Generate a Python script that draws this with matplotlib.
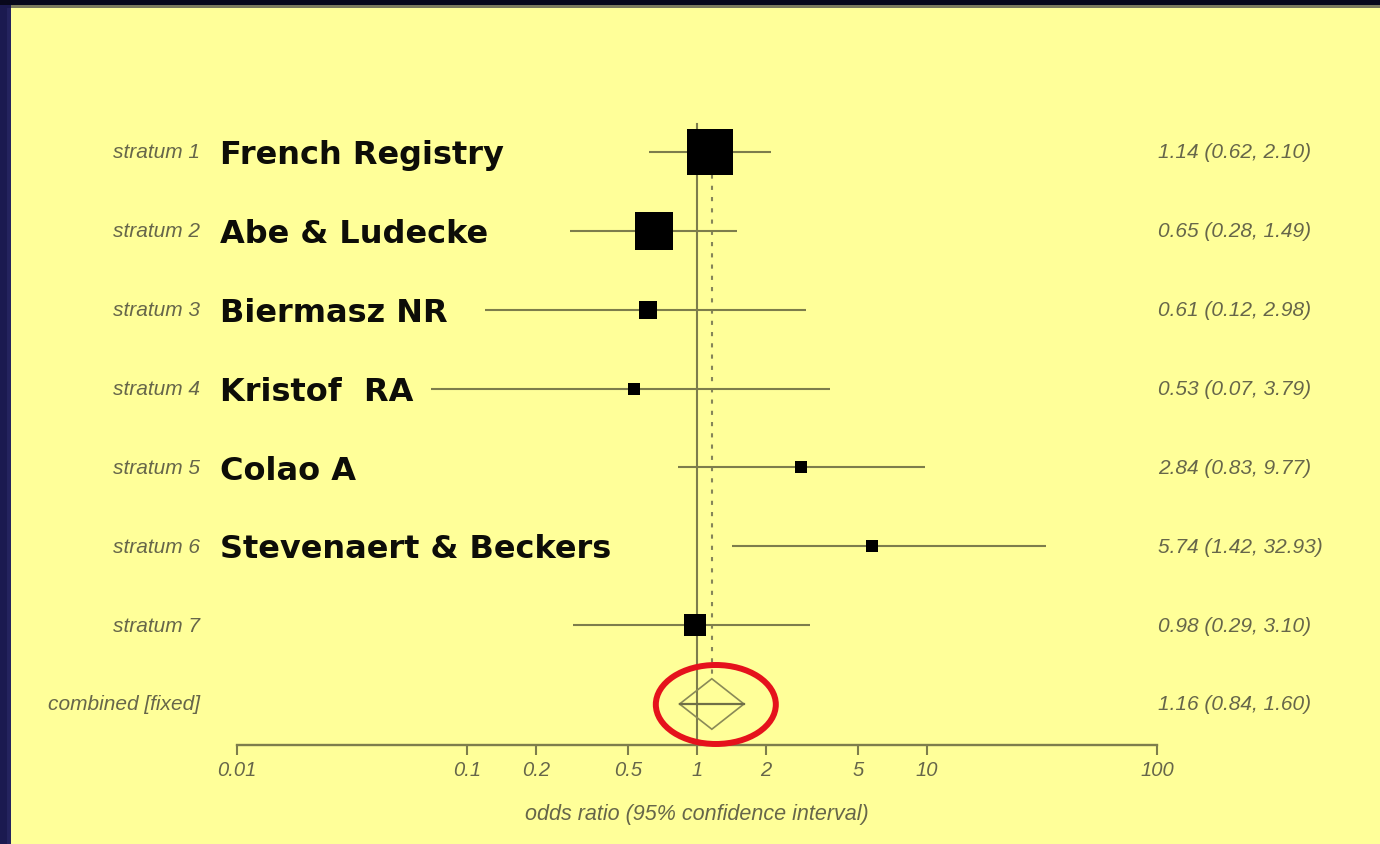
import numpy as np
import matplotlib
matplotlib.use("Agg")
import matplotlib.pyplot as plt
from matplotlib.patches import Rectangle, Polygon, Ellipse
from matplotlib import transforms
from matplotlib.ticker import NullLocator

# ---- data -------------------------------------------------------------
strata = ["stratum 1", "stratum 2", "stratum 3", "stratum 4",
          "stratum 5", "stratum 6", "stratum 7"]
studies = ["French Registry", "Abe & Ludecke", "Biermasz NR", "Kristof  RA",
           "Colao A", "Stevenaert & Beckers", ""]
odds_ratio = [1.14, 0.65, 0.61, 0.53, 2.84, 5.74, 0.98]
ci_low = [0.62, 0.28, 0.12, 0.07, 0.83, 1.42, 0.29]
ci_high = [2.10, 1.49, 2.98, 3.79, 9.77, 32.93, 3.10]
weights = [45.1, 29.2, 6.2, 3.1, 3.6, 2.6, 10.2]   # % weight per stratum

pooled_label = "combined [fixed]"
pooled_or = 1.16
pooled_low = 0.84
pooled_high = 1.60

tick_values = [0.01, 0.1, 0.2, 0.5, 1, 2, 5, 10, 100]
tick_labels = ["0.01", "0.1", "0.2", "0.5", "1", "2", "5", "10", "100"]
x_label = "odds ratio (95% confidence interval)"

# ---- styling ----------------------------------------------------------
W, H = 1380, 845
PANEL = "#ffff99"
LINE = "#7d7d4c"
TEXT_SOFT = "#66664a"
SMALL_FONT = ["Liberation Sans", "DejaVu Sans"]

fig = plt.figure(figsize=(W / 100, H / 100), dpi=100)
fig.patch.set_facecolor("#1b1a50")

# slide frame and yellow panel
fig.add_artist(Rectangle((0, 1 - 6 / H), 1, 6 / H, transform=fig.transFigure,
                         facecolor="#08081c", lw=0, zorder=0))
fig.add_artist(Rectangle((7 / W, 0), 4 / W, 1 - 9 / H, transform=fig.transFigure,
                         facecolor="#24235e", lw=0, zorder=0))
fig.add_artist(Rectangle((11 / W, 0), 1 - 11 / W, 1 - 9 / H, transform=fig.transFigure,
                         facecolor=PANEL, lw=0, zorder=0))
fig.add_artist(Rectangle((11 / W, 1 - 9 / H), 1 - 11 / W, 3 / H, transform=fig.transFigure,
                         facecolor="#7b7a5e", lw=0, zorder=0))

# plotting region: log axis from 0.01 to 100
ax = fig.add_axes([237 / W, 99 / H, 920 / W, 636 / H])
ax.set_facecolor("none")
ax.set_xscale("log")
ax.set_xlim(0.01, 100)
y_bottom, y_top = 7.52, -0.545
ax.set_ylim(y_bottom, y_top)

for side in ("top", "left", "right"):
    ax.spines[side].set_visible(False)
ax.spines["bottom"].set_color(LINE)
ax.spines["bottom"].set_linewidth(1.7)
ax.set_yticks([])
ax.set_xticks(tick_values)
ax.set_xticklabels(tick_labels)
ax.xaxis.set_minor_locator(NullLocator())
ax.tick_params(axis="x", direction="out", length=7, width=1.5, color=LINE,
               pad=4, labelsize=14.5, labelcolor=TEXT_SOFT)
for lbl in ax.get_xticklabels():
    lbl.set_fontstyle("italic")
    lbl.set_family(SMALL_FONT)
ax.set_xlabel(x_label, fontsize=15.5, fontstyle="italic", family=SMALL_FONT,
              color=TEXT_SOFT, labelpad=17)

# no-effect line and pooled-estimate line
ax.axvline(1, ymin=0, ymax=(y_bottom + 0.355) / (y_bottom - y_top),
           color=LINE, lw=1.5, zorder=1)
n = len(odds_ratio)
diamond_half = 0.32
ax.plot([pooled_or, pooled_or], [0, n - diamond_half], color="#85855a", lw=1.5,
        linestyle=(0, (2.0, 3.4)), zorder=1)

# study rows
max_w = max(weights)
for i in range(n):
    ax.plot([ci_low[i], ci_high[i]], [i, i], color=LINE, lw=1.5,
            solid_capstyle="butt", zorder=2)
    side_px = 46 * np.sqrt(weights[i] / max_w)
    ax.plot(odds_ratio[i], i, marker="s", ms=side_px * 0.72, mew=0,
            color="black", linestyle="none", zorder=3)

# pooled diamond
ax.add_patch(Polygon([(pooled_low, n), (pooled_or, n - diamond_half),
                      (pooled_high, n), (pooled_or, n + diamond_half)],
                     closed=True, fill=False, edgecolor="#8a8a58", lw=1.2, zorder=3))
ax.plot([pooled_low, pooled_high], [n, n], color="#6f6f47", lw=1.6, zorder=3)

# red highlight around the pooled estimate
ring_trans = fig.dpi_scale_trans + transforms.ScaledTranslation(pooled_or, n, ax.transData)
ax.add_patch(Ellipse((0.04, -0.005), 1.20, 0.79, fill=False, edgecolor="#e5121c",
                     lw=4.3, transform=ring_trans, clip_on=False, zorder=6))

# row labels
row_trans = transforms.blended_transform_factory(fig.transFigure, ax.transData)
name_trans = transforms.offset_copy(row_trans, fig=fig, y=-8, units="points")
row_names = strata + [pooled_label]
for i, s in enumerate(row_names):
    ax.text(200 / W, i, s, transform=row_trans, ha="right", va="center",
            fontsize=15, fontstyle="italic", family=SMALL_FONT, color=TEXT_SOFT)
for i, s in enumerate(studies):
    if s:
        ax.text(220 / W, i, s, transform=name_trans, ha="left", va="baseline",
                fontsize=23, fontweight="bold", family="DejaVu Sans", color="#0d0d08")

# estimates column
est = list(zip(odds_ratio, ci_low, ci_high)) + [(pooled_or, pooled_low, pooled_high)]
for i, (o, lo, hi) in enumerate(est):
    ax.text(1158 / W, i, f"{o:.2f} ({lo:.2f}, {hi:.2f})", transform=row_trans,
            ha="left", va="center", fontsize=15, fontstyle="italic",
            family=SMALL_FONT, color=TEXT_SOFT)

fig.savefig("out.png", dpi=100, facecolor=fig.get_facecolor())
